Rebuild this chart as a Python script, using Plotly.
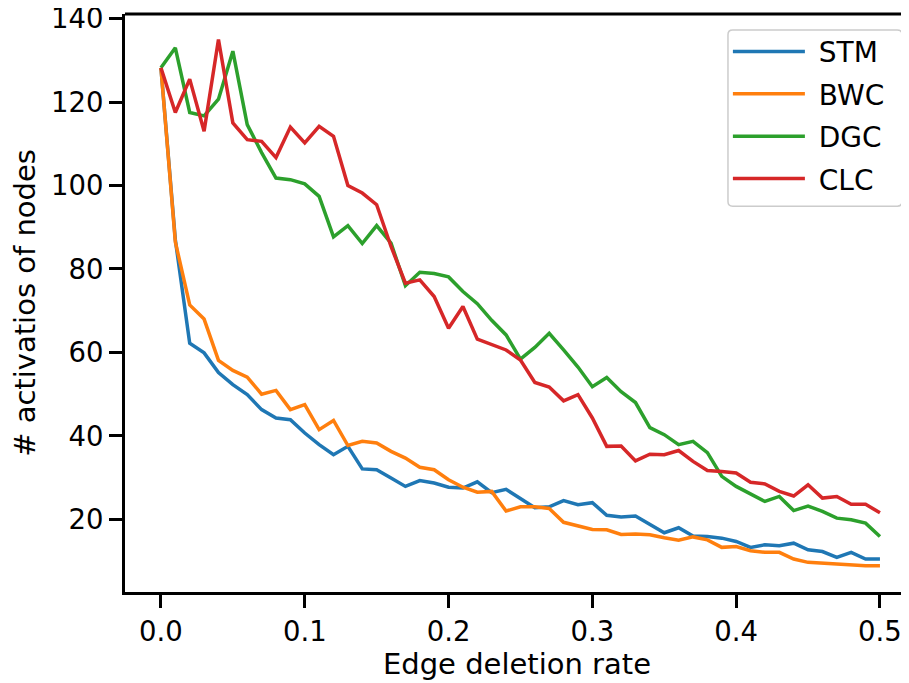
import plotly.graph_objects as go

x_rate = [round(i * 0.01, 2) for i in range(51)]

stm = [128.2, 87.0, 62.2, 59.9, 55.2, 52.3, 49.9, 46.3, 44.3, 43.9,
       40.7, 37.9, 35.5, 37.5, 32.1, 31.9, 29.9, 27.9, 29.3, 28.7,
       27.7, 27.5, 29.0, 26.4, 27.2, 25.0, 22.8, 23.0, 24.5, 23.5,
       24.0, 21.0, 20.6, 20.8, 18.8, 16.8, 18.0, 16.0, 15.9, 15.5,
       14.7, 13.3, 13.9, 13.7, 14.3, 12.7, 12.3, 10.9, 12.1, 10.5, 10.5]

bwc = [128.2, 86.5, 71.4, 68.0, 58.1, 55.7, 54.1, 50.0, 50.9, 46.3,
       47.5, 41.5, 43.7, 37.7, 38.7, 38.3, 36.3, 34.7, 32.5, 31.9,
       29.5, 27.7, 26.5, 26.7, 22.0, 23.0, 23.0, 22.6, 19.3, 18.4,
       17.6, 17.5, 16.4, 16.5, 16.3, 15.6, 15.0, 15.8, 15.1, 13.3,
       13.5, 12.5, 12.1, 12.1, 10.5, 9.7, 9.5, 9.1, 8.9, 8.9, 8.9]

dgc = [128.2, 133.0, 117.5, 116.7, 120.7, 132.2, 114.6, 107.9, 101.8, 101.4,
       100.4, 97.4, 87.7, 90.4, 86.1, 90.4, 86.2, 76.0, 79.2, 78.9,
       78.1, 74.6, 71.7, 67.7, 64.2, 58.4, 61.2, 64.6, 60.6, 56.5,
       51.8, 54.0, 50.6, 48.0, 42.0, 40.3, 37.9, 38.7, 36.0, 30.3,
       27.9, 26.1, 24.3, 25.5, 22.1, 23.2, 21.9, 20.3, 19.9, 19.1, 15.9]

clc = [128.2, 117.5, 125.5, 113.0, 135.0, 115.0, 111.0, 110.6, 106.7, 114.0,
       110.2, 114.2, 111.8, 100.0, 98.2, 95.4, 85.4, 76.6, 77.4, 73.4,
       65.8, 71.0, 63.2, 61.8, 60.6, 58.2, 52.8, 51.7, 48.4, 49.9,
       44.3, 37.5, 37.6, 34.0, 35.6, 35.5, 36.5, 33.9, 31.7, 31.5,
       31.1, 28.9, 28.5, 26.7, 25.6, 28.3, 25.1, 25.5, 23.6, 23.6, 21.6]

series_names = ["STM", "BWC", "DGC", "CLC"]
series_values = [stm, bwc, dgc, clc]
colors = ["#1f77b4", "#ff7f0e", "#2ca02c", "#d62728"]

x_ticks = [0.0, 0.1, 0.2, 0.3, 0.4, 0.5]
x_tick_labels = ["0.0", "0.1", "0.2", "0.3", "0.4", "0.5"]
y_ticks = [20, 40, 60, 80, 100, 120, 140]

FONT = "DejaVu Sans"
TICK_FS = 27.5
TITLE_FS = 29
LEG_FS = 28
NB = "\u00a0"

fig = go.Figure()
for name, vals, col in zip(series_names, series_values, colors):
    fig.add_trace(go.Scatter(x=x_rate, y=vals, mode="lines", name=NB + name + NB,
                             legendgroup=name,
                             line=dict(color=col, width=3.5)))

fig.update_layout(
    width=901, height=675,
    margin=dict(l=117, r=0, t=6, b=91, autoexpand=False),
    paper_bgcolor="white", plot_bgcolor="white",
    font=dict(family=FONT, size=TICK_FS, color="black"),
    showlegend=True,
    legend=dict(x=0.769, y=0.978, xanchor="left", yanchor="top",
                bgcolor="rgba(0,0,0,0)", borderwidth=0,
                itemwidth=72, tracegroupgap=3,
                font=dict(family=FONT, size=LEG_FS, color="black")),
    xaxis=dict(range=[-0.025, 0.5202], tickvals=x_ticks, ticktext=x_tick_labels,
               automargin=False,
               showline=True, linecolor="black", linewidth=3,
               ticks="outside", ticklen=13, tickwidth=2.5, tickcolor="black",
               showgrid=False, zeroline=False, ticklabeloverflow="allow",
               tickfont=dict(family=FONT, size=TICK_FS),
               title=dict(text="Edge deletion rate", standoff=6,
                          font=dict(family=FONT, size=TITLE_FS))),
    yaxis=dict(range=[2.6, 141.1], tickvals=y_ticks,
               automargin=False,
               showline=True, linecolor="black", linewidth=3,
               ticks="outside", ticklen=13, tickwidth=2.5, tickcolor="black",
               showgrid=False, zeroline=False, ticklabeloverflow="allow",
               tickfont=dict(family=FONT, size=TICK_FS),
               title=dict(text="# activatios of nodes", standoff=12,
                          font=dict(family=FONT, size=TITLE_FS))),
)

# top spine
fig.add_shape(type="line", xref="paper", yref="paper", x0=0, x1=1, y0=1, y1=1,
              line=dict(color="black", width=3))

# legend frame with rounded corners (paper coords)
lx0, lx1 = 0.7691, 0.9911
ly0, ly1 = 0.6675, 0.9723
rx, ry = 0.006, 0.008
path = (f"M {lx0+rx},{ly1} L {lx1-rx},{ly1} Q {lx1},{ly1} {lx1},{ly1-ry} "
        f"L {lx1},{ly0+ry} Q {lx1},{ly0} {lx1-rx},{ly0} "
        f"L {lx0+rx},{ly0} Q {lx0},{ly0} {lx0},{ly0+ry} "
        f"L {lx0},{ly1-ry} Q {lx0},{ly1} {lx0+rx},{ly1} Z")
fig.add_shape(type="path", xref="paper", yref="paper", path=path,
              fillcolor="rgba(255,255,255,0.8)", line=dict(color="#cccccc", width=1.5),
              layer="above")

fig.write_html("out.html")
